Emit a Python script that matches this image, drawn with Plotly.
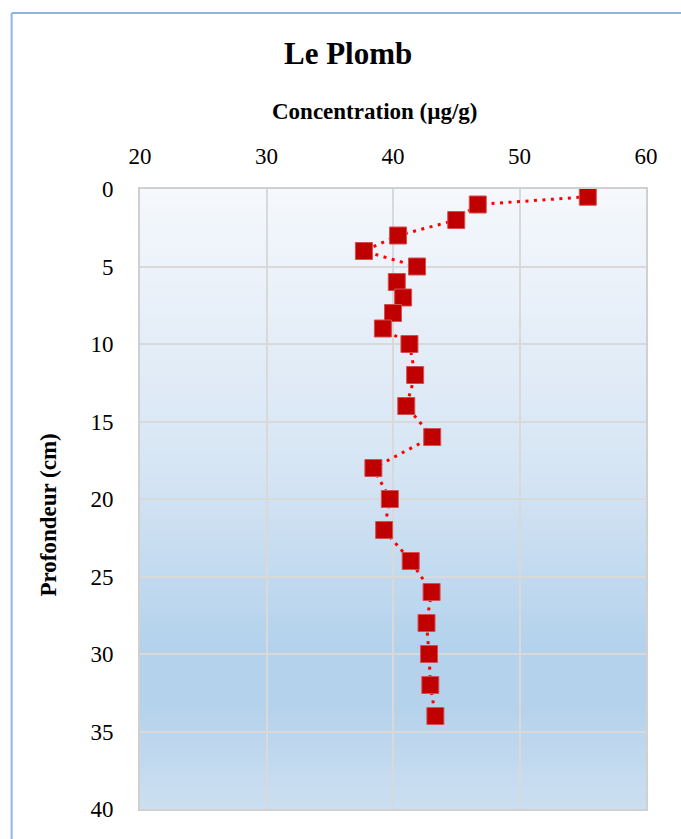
import plotly.graph_objects as go

# Lead concentration profile versus depth
depth_cm = [0.5, 1, 2, 3, 4, 5, 6, 7, 8, 9, 10, 12, 14, 16, 18, 20, 22, 24, 26, 28, 30, 32, 34]
lead_ug_g = [55.4, 46.7, 45.0, 40.4, 37.7, 41.9, 40.3, 40.8, 40.0, 39.2, 41.3, 41.75, 41.05,
             43.1, 38.45, 39.75, 39.3, 41.4, 43.05, 42.65, 42.85, 42.95, 43.35]

x_ticks = [20, 30, 40, 50, 60]
y_ticks = [0, 5, 10, 15, 20, 25, 30, 35, 40]

SERIF = "Liberation Serif"

fig = go.Figure()
fig.add_trace(go.Scatter(
    x=lead_ug_g, y=depth_cm, mode="lines+markers",
    line=dict(color="#FF0000", width=3, dash="3px,5.5px"),
    marker=dict(symbol="square", size=17, color="#C00000",
                line=dict(color="#D45050", width=1)),
    hoverinfo="x+y", showlegend=False,
))

# vertical gradient fill of the plotting area
stops = [(0.0, (245, 248, 252)), (0.45, (214, 229, 244)), (0.74, (180, 210, 236)),
         (0.83, (181, 210, 236)), (1.0, (204, 223, 241))]


def grad(t):
    for (t0, c0), (t1, c1) in zip(stops[:-1], stops[1:]):
        if t0 <= t <= t1:
            f = (t - t0) / (t1 - t0) if t1 > t0 else 0
            return tuple(round(a + (b - a) * f) for a, b in zip(c0, c1))
    return stops[-1][1]


shapes = []
n = 120
for i in range(n):
    y0 = 40 * i / n
    r, g, b = grad((i + 0.5) / n)
    # each band runs to the bottom; the next one covers it, so no seams appear
    shapes.append(dict(type="rect", xref="x", yref="y", x0=20, x1=60, y0=y0, y1=40,
                       fillcolor=f"rgb({r},{g},{b})", line=dict(width=0), layer="below"))

# outer chart frame (left and top edges)
W, H = 681, 839
ml, mr, mt, mb = 139.5, 35, 189, 30
pw, ph = W - ml - mr, H - mt - mb


def px(x):
    return (x - ml) / pw


def py(y):
    return (H - mb - y) / ph


frame = dict(color="#8EB4E3", width=2)
shapes.append(dict(type="line", xref="paper", yref="paper", x0=px(11), x1=px(11),
                   y0=py(13), y1=py(860), line=frame, layer="above"))
shapes.append(dict(type="line", xref="paper", yref="paper", x0=px(11), x1=px(700),
                   y0=py(13), y1=py(13), line=frame, layer="above"))

annotations = [
    dict(text="<b>Le Plomb</b>", xref="paper", yref="paper", x=px(348), y=py(53),
         showarrow=False, font=dict(family=SERIF, size=31, color="#000000"),
         xanchor="center", yanchor="middle"),
    dict(text="<b>Concentration (µg/g)</b>", xref="paper", yref="paper", x=px(375), y=py(111),
         showarrow=False, font=dict(family=SERIF, size=23, color="#000000"),
         xanchor="center", yanchor="middle"),
    dict(text="<b>Profondeur (cm)</b>", xref="paper", yref="paper", x=px(47), y=py(515),
         showarrow=False, textangle=-90, font=dict(family=SERIF, size=23, color="#000000"),
         xanchor="center", yanchor="middle"),
]

fig.update_layout(
    width=W, height=H,
    margin=dict(l=ml, r=mr, t=mt, b=mb, pad=0),
    paper_bgcolor="#FFFFFF", plot_bgcolor="rgba(0,0,0,0)",
    shapes=shapes, annotations=annotations,
    xaxis=dict(side="top", range=[20, 60], tickvals=x_ticks, ticktext=[str(v) for v in x_ticks],
               showgrid=True, gridcolor="#D9D9D9", gridwidth=1.5,
               showline=True, linecolor="#D0D0D0", linewidth=2, mirror=True,
               ticks="", ticklabelstandoff=14, zeroline=False,
               tickfont=dict(family=SERIF, size=23, color="#000000")),
    yaxis=dict(range=[40, 0], tickvals=y_ticks, ticktext=[str(v) for v in y_ticks],
               showgrid=True, gridcolor="#D9D9D9", gridwidth=1.5,
               showline=True, linecolor="#D0D0D0", linewidth=2, mirror=True,
               ticks="", ticklabelstandoff=20, zeroline=False,
               tickfont=dict(family=SERIF, size=23, color="#000000")),
)

fig.write_html("out.html")
